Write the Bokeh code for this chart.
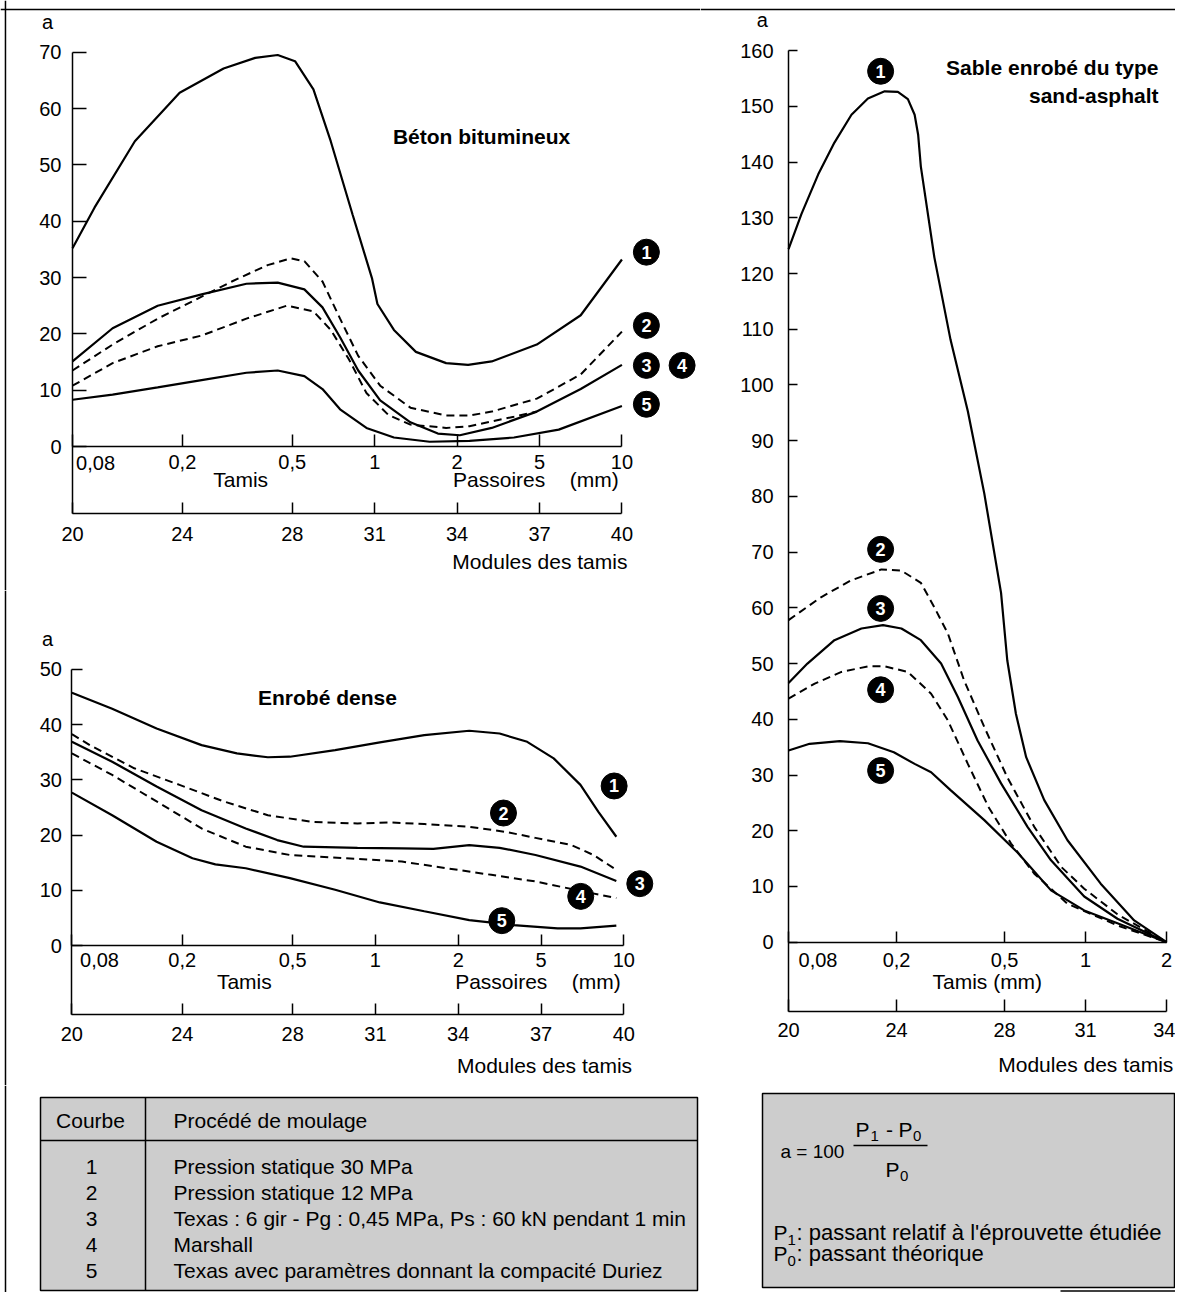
from bokeh.plotting import figure
from bokeh.models import Range1d, LinearAxis, FixedTicker, Span
from bokeh.layouts import row, column
from bokeh.embed import file_html
from bokeh.resources import INLINE
from bokeh.core.properties import value

FONT = "Liberation Sans"
GRAY = "#cdcdcd"

# ---------------- data ----------------
MOD_TICKS = [20, 24, 28, 31, 34, 37, 40]
TAMIS_LABELS = ["0,08", "0,2", "0,5", "1", "2", "5", "10"]
MOD3_TICKS = [20, 24, 28, 31, 34]
TAMIS3_LABELS = ["0,08", "0,2", "0,5", "1", "2"]
CURVE_IDS = ["1", "2", "3", "4", "5"]
DASHED = [False, True, False, True, False]

# Béton bitumineux (module, a)
bb_x = [
    [20, 20.8, 22.27, 23.9, 25.5, 26.65, 27.47, 28.1, 28.77, 29.4, 30.2, 30.9, 31.1, 31.7, 32.5, 33.6, 34.4, 35.26, 36.9, 38.5, 40],
    [20, 21.46, 23.1, 24.7, 25.8, 27.1, 27.95, 28.44, 29.1, 29.74, 30.4, 31.2, 32.3, 33.6, 34.45, 35.26, 36.9, 38.5, 40],
    [20, 21.46, 23.1, 24.7, 26.33, 27.47, 28.44, 29.1, 29.74, 30.4, 31.2, 32.3, 33.3, 34.1, 35.26, 36.9, 38.5, 40],
    [20, 21.46, 23.1, 24.7, 26.33, 27.8, 28.77, 29.4, 30.06, 30.7, 31.5, 32.3, 33.6, 34.45, 36.07, 36.9],
    [20, 21.46, 23.1, 24.7, 26.33, 27.47, 28.44, 29.1, 29.74, 30.7, 31.7, 33.0, 34.45, 36.07, 37.7, 40],
]
bb_y = [
    [35.2, 42.4, 54.2, 62.8, 67.1, 69.0, 69.5, 68.4, 63.4, 54.2, 41.1, 29.9, 25.3, 20.7, 16.8, 14.8, 14.5, 15.1, 18.1, 23.3, 33.2],
    [13.5, 18.1, 22.7, 26.6, 29.3, 32.2, 33.4, 32.9, 29.3, 22.7, 16.1, 10.8, 6.9, 5.5, 5.5, 6.2, 8.5, 12.8, 20.4],
    [15.1, 21.0, 25.0, 27.0, 28.9, 29.1, 27.9, 24.7, 19.4, 13.5, 8.2, 4.3, 2.3, 2.0, 3.3, 6.2, 10.2, 14.5],
    [10.8, 14.8, 17.8, 19.7, 22.7, 25.0, 24.0, 20.7, 15.5, 9.5, 5.6, 3.9, 3.3, 3.6, 5.3, 6.2],
    [8.3, 9.2, 10.5, 11.8, 13.1, 13.5, 12.5, 10.2, 6.6, 3.3, 1.6, 0.85, 1.0, 1.6, 3.0, 7.2],
]
bb_lab_x = [40.89, 40.89, 40.89, 42.19, 40.89]
bb_lab_y = [34.5, 21.5, 14.4, 14.4, 7.5]

# Enrobé dense
ed_x = [
    [20, 21.46, 23.07, 24.7, 25.98, 27.1, 27.9, 29.54, 31.16, 32.77, 34.4, 35.5, 36.5, 37.46, 38.43, 39.08, 39.73],
    [20, 20.65, 22.26, 23.9, 25.5, 27.1, 28.7, 30.35, 31.5, 32.77, 34.4, 35.7, 36.8, 38.1, 38.9, 39.73],
    [20, 21.46, 23.07, 24.7, 26.3, 27.44, 28.4, 30.35, 31.96, 33.1, 34.4, 35.5, 36.8, 38.43, 39.73],
    [20, 21.46, 23.07, 24.7, 26.3, 27.9, 30.35, 31.96, 33.58, 35.2, 36.8, 38.43, 39.73],
    [20, 21.46, 23.07, 24.37, 25.2, 26.3, 27.9, 29.54, 31.16, 32.77, 34.4, 36.0, 37.6, 38.43, 39.73],
]
ed_y = [
    [45.8, 42.9, 39.3, 36.3, 34.8, 34.1, 34.2, 35.4, 36.8, 38.1, 38.9, 38.4, 36.9, 33.9, 29.1, 24.2, 19.7],
    [38.3, 36.3, 32.1, 29.1, 26.1, 23.6, 22.4, 22.1, 22.3, 22.0, 21.5, 20.6, 19.5, 18.2, 16.4, 13.7],
    [36.9, 33.3, 28.8, 24.5, 21.2, 19.1, 17.9, 17.7, 17.6, 17.5, 18.2, 17.7, 16.4, 14.3, 11.7],
    [34.8, 30.9, 26.1, 21.2, 17.9, 16.4, 15.7, 15.2, 14.0, 12.8, 11.6, 9.9, 8.6],
    [27.7, 23.6, 18.8, 15.8, 14.7, 14.0, 12.2, 10.1, 7.8, 6.2, 4.6, 3.7, 3.1, 3.1, 3.6],
]
ed_lab_x = [39.65, 35.64, 40.58, 38.44, 35.58]
ed_lab_y = [28.9, 24.0, 11.2, 8.9, 4.5]

# Sable enrobé du type sand-asphalt
sa_x = [
    [20, 20.48, 21.1, 21.7, 22.33, 22.94, 23.56, 24.05, 24.42, 24.67, 24.8, 24.9, 25.4, 26.0, 26.64, 27.25, 27.87, 28.1, 28.42, 28.8, 29.47, 30.33, 31.56, 32.8, 34],
    [20, 21.2, 22.3, 23.44, 24.17, 24.9, 25.4, 25.9, 26.5, 27.25, 28.1, 29.1, 30.1, 30.95, 32.18, 34],
    [20, 20.7, 21.7, 22.7, 23.5, 24.18, 24.9, 25.65, 26.27, 27.0, 27.87, 28.85, 29.72, 30.95, 32.18, 34],
    [20, 20.97, 21.96, 22.94, 23.56, 24.42, 25.28, 25.9, 26.64, 27.4, 28.24, 29.1, 30.33, 32.18, 34],
    [20, 20.78, 21.9, 22.94, 23.9, 24.67, 25.28, 26.0, 27.25, 28.48, 29.72, 30.95, 32.18, 34],
]
sa_y = [
    [124.4, 130.7, 137.8, 143.5, 148.5, 151.4, 152.7, 152.6, 151.3, 148.5, 144.9, 139.2, 122.9, 108.1, 95.3, 80.5, 62.7, 50.6, 41.0, 33.2, 25.5, 18.3, 10.5, 3.9, 0],
    [57.8, 61.9, 64.9, 66.9, 66.7, 64.5, 60.1, 55.4, 47.0, 38.6, 29.6, 20.7, 13.5, 9.6, 5.0, 0],
    [46.5, 50.0, 54.2, 56.3, 56.9, 56.3, 54.2, 50.0, 44.0, 36.2, 28.5, 20.7, 14.7, 8.2, 4.2, 0],
    [43.7, 46.4, 48.5, 49.5, 49.5, 48.5, 44.6, 39.8, 32.0, 24.3, 17.7, 12.3, 6.9, 3.0, 0],
    [34.4, 35.6, 36.1, 35.7, 34.1, 32.0, 30.5, 27.3, 21.9, 16.1, 9.3, 5.7, 3.4, 0],
]
sa_lab_x = [23.41, 23.41, 23.41, 23.41, 23.41]
sa_lab_y = [156.3, 70.5, 59.9, 45.3, 30.8]

PROCEDES = [
    "Pression statique 30 MPa",
    "Pression statique 12 MPa",
    "Texas : 6 gir - Pg : 0,45 MPa, Ps : 60 kN pendant 1 min",
    "Marshall",
    "Texas avec paramètres donnant la compacité Duriez",
]


# ---------------- helpers ----------------
def base_fig(w, h, xr, yr):
    p = figure(width=w, height=h, x_range=Range1d(*xr), y_range=Range1d(*yr),
               x_axis_type=None, y_axis_type=None, toolbar_location=None,
               output_backend="svg", min_border=0, outline_line_color=None)
    p.background_fill_color = "white"
    p.border_fill_color = "white"
    return p


def txt(p, x, y, s, size="20px", align="center", baseline="middle", bold=False, color="black"):
    p.text(x=[x], y=[y], text=[s], text_font=value(FONT), text_font_size=size,
           text_align=align, text_baseline=baseline,
           text_font_style="bold" if bold else "normal", text_color=color)


AX = dict(axis_line_color="black", axis_line_width=1.5, major_tick_line_color="black",
          major_tick_line_width=1.5, minor_tick_line_color=None,
          major_label_text_font=FONT, major_label_text_font_size="20px",
          major_label_text_color="black")


def chart(w, h, xr, yr, ticks, labels, ymax, mod_line, ytick, xtick, mtick,
          x_stand, m_stand, y_stand):
    p = base_fig(w, h, xr, yr)
    over = {t: (lab if i > 0 else "") for i, (t, lab) in enumerate(zip(ticks, labels))}
    xa = LinearAxis(fixed_location=0, bounds=(ticks[0], ticks[-1]),
                    ticker=FixedTicker(ticks=ticks), major_label_overrides=over,
                    major_tick_in=xtick, major_tick_out=0,
                    major_label_standoff=x_stand, **AX)
    p.add_layout(xa, "below")
    ma = LinearAxis(fixed_location=mod_line, bounds=(ticks[0], ticks[-1]),
                    ticker=FixedTicker(ticks=ticks), major_tick_in=mtick,
                    major_tick_out=0, major_label_standoff=m_stand, **AX)
    p.add_layout(ma, "below")
    ya = LinearAxis(fixed_location=ticks[0], bounds=(mod_line, ymax),
                    ticker=FixedTicker(ticks=list(range(0, ymax + 1, 10))),
                    major_tick_in=ytick, major_tick_out=0,
                    major_label_standoff=y_stand, **AX)
    p.add_layout(ya, "left")
    return p


def curves(p, xs, ys):
    for x, y, d in zip(xs, ys, DASHED):
        if d:
            p.line(x, y, line_color="black", line_width=2.0, line_dash="8 5")
        else:
            p.line(x, y, line_color="black", line_width=2.2)


def badges(p, xs, ys):
    p.scatter(xs, ys, size=26, color="black")
    p.text(x=xs, y=ys, text=CURVE_IDS, text_font=value(FONT), text_font_size="18px",
           text_font_style="bold", text_color="white", text_align="center",
           text_baseline="middle")


def vline(p, x):
    p.add_layout(Span(location=x, dimension="height", line_color="black", line_width=1.5))


def hline(p, y):
    p.add_layout(Span(location=y, dimension="width", line_color="black", line_width=1.5))


# ---------------- chart 1 : Béton bitumineux ----------------
p1 = chart(700, 590, (17.379, 42.86), (-25.56, 79.18), MOD_TICKS, TAMIS_LABELS,
           70, -11.95, 14, 12, 11, 8, 13, 11)
curves(p1, bb_x, bb_y)
badges(p1, bb_lab_x, bb_lab_y)
txt(p1, 19.09, 75.3, "a")
txt(p1, 34.89, 55.0, "Béton bitumineux", size="21px", bold=True)
txt(p1, 20.84, -2.84, TAMIS_LABELS[0])
txt(p1, 26.12, -5.8, "Tamis", size="21px")
txt(p1, 35.53, -5.8, "Passoires", size="21px")
txt(p1, 38.99, -5.8, "(mm)", size="21px")
txt(p1, 40.2, -20.4, "Modules des tamis", size="21px", align="right")
vline(p1, 17.56)
hline(p1, 77.58)

# ---------------- chart 2 : Enrobé dense ----------------
p2 = chart(700, 495, (17.413, 42.78), (-25.36, 64.31), MOD_TICKS, TAMIS_LABELS,
           50, -12.55, 11, 11, 11, 7, 12, 10)
curves(p2, ed_x, ed_y)
badges(p2, ed_lab_x, ed_lab_y)
txt(p2, 19.12, 55.5, "a")
txt(p2, 29.26, 45.0, "Enrobé dense", size="21px", bold=True)
txt(p2, 21.0, -2.7, TAMIS_LABELS[0])
txt(p2, 26.25, -6.6, "Tamis", size="21px")
txt(p2, 35.56, -6.6, "Passoires", size="21px")
txt(p2, 39.0, -6.6, "(mm)", size="21px")
txt(p2, 40.3, -21.7, "Modules des tamis", size="21px", align="right")
vline(p2, 17.594)

# ---------------- chart 3 : Sable enrobé ----------------
p3 = chart(475, 1085, (16.74, 34.33), (-25.72, 169.0), MOD3_TICKS, TAMIS3_LABELS,
           160, -12.38, 9, 11, 12, 11, 12, 15)
curves(p3, sa_x, sa_y)
badges(p3, sa_lab_x, sa_lab_y)
txt(p3, 19.03, 165.5, "a")
txt(p3, 33.7, 157.0, "Sable enrobé du type", size="21px", align="right", bold=True)
txt(p3, 33.7, 152.0, "sand-asphalt", size="21px", align="right", bold=True)
txt(p3, 21.09, -3.28, TAMIS3_LABELS[0])
txt(p3, 27.36, -7.05, "Tamis (mm)", size="21px")
txt(p3, 34.25, -21.95, "Modules des tamis", size="21px", align="right")
hline(p3, 167.39)

# ---------------- table : Courbe / Procédé de moulage ----------------
t1 = base_fig(700, 207, (0, 700), (207, 0))
t1.quad(left=40, right=697, top=12, bottom=205, fill_color=GRAY,
        line_color="black", line_width=1.5)
t1.segment(x0=40, y0=55, x1=697, y1=55, line_color="black", line_width=1.5)
t1.segment(x0=145, y0=12, x1=145, y1=205, line_color="black", line_width=1.5)
txt(t1, 90, 35, "Courbe", size="21px")
txt(t1, 173, 35, "Procédé de moulage", size="21px", align="left")
row_y = [81 + 26 * i for i in range(len(CURVE_IDS))]
t1.text(x=[91] * len(CURVE_IDS), y=row_y, text=CURVE_IDS, text_font=value(FONT),
        text_font_size="21px", text_align="center", text_baseline="middle")
t1.text(x=[173] * len(PROCEDES), y=row_y, text=PROCEDES, text_font=value(FONT),
        text_font_size="21px", text_align="left", text_baseline="middle")
vline(t1, 5)

# ---------------- formula box ----------------
t2 = base_fig(475, 207, (0, 475), (207, 0))
t2.quad(left=62, right=474, top=8, bottom=202, fill_color=GRAY,
        line_color="black", line_width=1.5)
t2.segment(x0=360, y0=205.5, x1=475, y1=205.5, line_color="black", line_width=1.5)
txt(t2, 80, 66, "a = 100", size="19px", align="left")
txt(t2, 155, 44, "P", size="21px", align="left")
txt(t2, 170, 50, "1", size="15px", align="left")
txt(t2, 189, 44, "-", size="21px")
txt(t2, 198, 44, "P", size="21px", align="left")
txt(t2, 212.5, 50, "0", size="15px", align="left")
t2.segment(x0=153, y0=60, x1=227, y1=60, line_color="black", line_width=1.5)
txt(t2, 185, 84, "P", size="21px", align="left")
txt(t2, 199.5, 90, "0", size="15px", align="left")
txt(t2, 73, 147, "P", size="21px", align="left")
txt(t2, 87, 154, "1", size="15px", align="left")
txt(t2, 96, 147, ": passant relatif à l'éprouvette étudiée", size="22px", align="left")
txt(t2, 73, 168, "P", size="21px", align="left")
txt(t2, 87, 175, "0", size="15px", align="left")
txt(t2, 96, 168, ": passant théorique", size="22px", align="left")

layout = row(column(p1, p2, t1), column(p3, t2))
open("out.html", "w").write(file_html(layout, INLINE))
